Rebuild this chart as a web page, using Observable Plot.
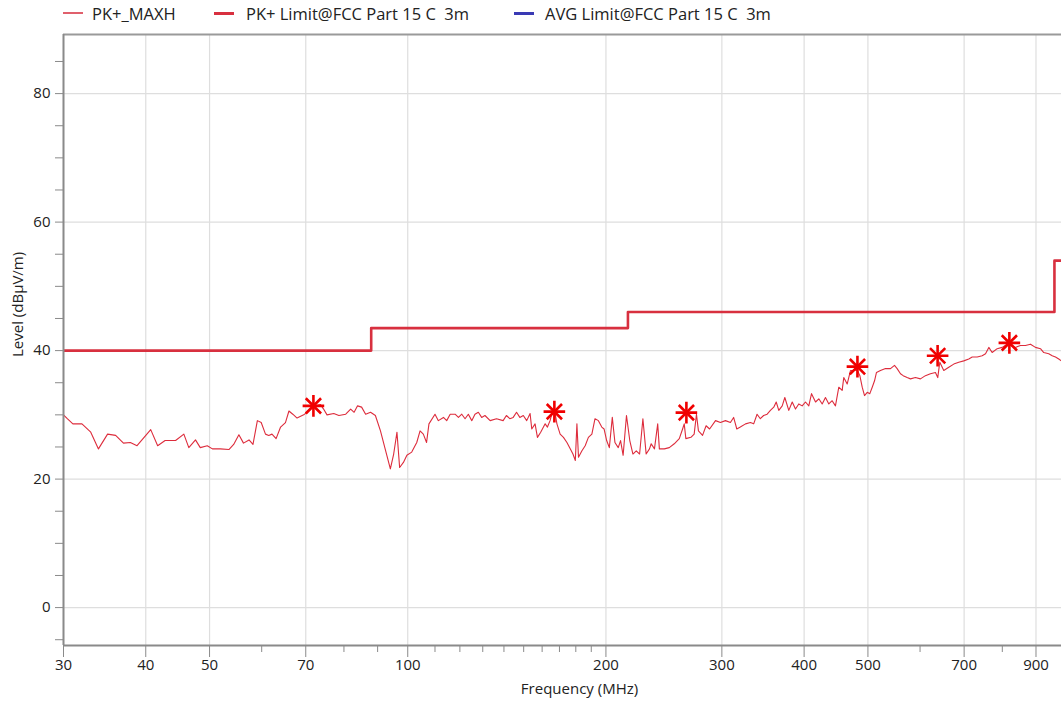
<!DOCTYPE html>
<html><head><meta charset="utf-8">
<script src="https://cdn.jsdelivr.net/npm/d3@7"></script>
<script src="https://cdn.jsdelivr.net/npm/@observablehq/plot@0.6"></script>
<style>
html,body{margin:0;padding:0;background:#fff;overflow:hidden;width:1061px;height:709px}
#legend{position:relative;height:26px;font-family:"Open Sans",sans-serif;font-size:16.5px;color:#222}
.item{position:absolute;top:1px;height:24px;display:flex;align-items:center;white-space:pre}
.sw{position:absolute;width:20px}
#chart svg{display:block;overflow:hidden}
</style></head><body>
<div id="legend"></div>
<div id="chart"></div>
<script>
// ---- data ----
const traceFreq = [30,30.4,31.0,32.0,33.0,33.9,35.0,36.0,37.0,37.9,38.8,40.7,41.7,42.8,44.4,45.7,46.5,47.6,48.4,49.6,50.5,51.9,53.5,54.4,55.4,56.3,57.4,58.2,59.1,
59.9,60.8,61.5,62.2,63.1,64.1,65.2,66.0,66.9,67.9,69.5,71.2,72.5,73.7,74.5,75.4,77.2,78.6,80.5,81.9,82.9,83.9,85.1,86.3,87.8,89.3,90.9,92.4,94.1,95.2,96.3,97.2,98.5,99.7,101.4,103.2,104.4,105.6,106.8,107.7,110.0,111.3,113.3,114.6,116.0,118.0,
119.4,120.8,122.2,123.6,125.1,126.5,128.0,129.5,131.0,133.4,136.4,139.6,141.2,142.9,144.6,146.3,148.0,149.8,151.6,153.4,154.3,156.1,157.4,159.2,161.7,163.0,164.5,166.1,167.5,168.5,170.4,172.4,174.5,176.6,178.2,179.7,180.7,181.7,183.9,186.0,188.1,190.4,192.5,194.8,197.1,198.7,200.5,202.4,204.5,206.4,208.8,210.5,212.4,214.9,217.4,219.8,222.4,225.0,227.6,230.2,232.9,
234.3,237.0,239.7,241.1,245.3,249.6,254.0,258.5,261.5,263.0,264.5,269.2,272.3,274.5,276.4,280.4,283.9,287.4,293.4,298.5,303.8,309.1,312.6,316.1,320.0,325.9,331.5,335.3,339.3,343.2,347.2,351.5,355.5,359.7,362.8,366.1,370.5,373.9,379.1,383.7,388.1,392.6,397.3,401.9,406.6,410.5,416.3,421.1,426.1,431.0,436.1,441.2,446.3,451.6,456.9,459.5,465.0,470.4,
475.9,481.6,486.1,490.1,494.1,498.8,503.3,507.6,511.7,515.2,522.4,531.7,541.1,548.7,553.8,560.3,565.6,573.5,580.2,590.4,600.8,611.4,622.2,633.2,638.3,642.9,651.9,663.4,675.1,687.0,699.1,711.5,720.0,732.8,745.6,754.4,763.1,772.1,785.8,799.6,813.7,823.1,837.6,852.4,867.5,882.8,898.4,914.2,924.8,941.1,952.5,963.5,974.6,983.8];
const traceLevel = [30.0,29.4,28.6,28.6,27.3,24.7,27.0,26.8,25.6,25.7,25.2,27.7,25.2,26.0,26.0,27.0,24.9,26.1,24.9,25.2,24.7,24.7,24.6,25.4,26.9,25.6,26.1,25.4,29.1,
28.8,27.0,26.8,27.0,26.3,28.1,28.8,30.6,30.1,29.5,30.0,30.9,31.4,31.6,30.9,30.0,30.2,29.9,30.1,30.9,30.4,31.4,31.2,30.1,30.4,29.9,27.5,24.7,21.6,23.9,27.3,21.8,22.6,23.7,24.2,25.7,27.5,27.0,25.7,28.6,30.1,29.1,29.6,29.1,30.1,30.1,
29.6,30.1,29.4,30.1,29.1,30.1,30.4,29.6,29.9,29.1,29.4,29.1,29.9,29.4,29.6,30.4,29.6,29.9,29.1,30.2,27.8,28.6,26.5,27.3,28.6,28.1,29.1,30.7,30.1,28.6,27.0,26.5,25.7,24.7,23.9,22.9,28.6,23.4,24.4,25.2,26.5,27.0,29.4,29.1,28.1,27.8,26.0,24.9,29.6,25.7,24.9,26.0,23.7,29.9,26.0,23.9,24.4,23.9,29.4,23.9,24.7,
25.5,24.7,28.6,24.7,24.7,24.9,25.5,26.3,27.8,28.6,26.3,26.5,27.0,30.1,27.5,26.8,28.3,27.8,29.1,28.8,29.1,28.8,29.6,27.8,28.1,28.6,28.8,28.6,30.1,29.4,29.9,30.1,30.7,31.2,32.0,30.7,31.4,32.7,30.7,32.0,30.9,31.7,31.4,32.0,31.4,33.3,32.0,32.5,31.7,32.7,31.7,32.2,31.4,34.3,33.8,35.8,34.8,36.9,
36.9,37.0,36.1,34.3,33.0,33.5,33.3,34.3,35.3,36.6,36.9,37.2,37.2,37.7,37.2,36.4,36.1,35.8,35.6,35.8,35.6,36.1,36.4,36.6,35.8,38.2,36.9,37.4,37.9,38.2,38.4,38.7,39.0,39.0,39.2,39.5,40.5,39.7,40.3,40.5,41.0,40.8,40.5,40.8,40.8,41.0,40.5,40.3,39.7,39.5,39.2,39.0,38.7,38.4];

const limitFreq = [30, 88, 216, 960, 1000];
const limitLevel = [40, 43.5, 46, 54, 54];

const peakFreq = [71.9, 167, 265, 482, 638, 820];
const peakLevel = [31.4, 30.5, 30.35, 37.5, 39.2, 41.2];

const xMajorTicks = [30, 40, 50, 70, 100, 200, 300, 400, 500, 700, 900];
const xMinorTicks = [60, 80, 90, 110, 120, 130, 140, 150, 160, 170, 180, 190, 600, 800];
const yMajorTicks = [0, 20, 40, 60, 80];
const yMinorTicks = [-5, 5, 10, 15, 25, 30, 35, 45, 50, 55, 65, 70, 75, 85];

const legendLabels = ["PK+_MAXH", "PK+ Limit@FCC Part 15 C  3m", "AVG Limit@FCC Part 15 C  3m"];
const xTitle = "Frequency (MHz)";
const yTitle = "Level (dBµV/m)";

// ---- styles ----
const traceColor = "#dd2c3c", limitColor = "#d8303f", avgColor = "#3a3ab4", peakColor = "#f00000";
const axisColor = "#8a8a8a", gridColor = "#dedede", textColor = "#222";
const yMin = -5.9, yMax = 89.2;

// ---- legend ----
const legendStyle = [
  {color: "#e0606c", w: 1.5, sx: 63, tx: 92},
  {color: limitColor, w: 3, sx: 214, tx: 246},
  {color: avgColor, w: 3, sx: 514, tx: 545}
];
const lg = document.getElementById("legend");
legendLabels.forEach((t, i) => {
  const s = legendStyle[i];
  const sw = document.createElement("div");
  sw.className = "sw";
  sw.style.left = s.sx + "px";
  sw.style.height = s.w + "px";
  sw.style.top = (13 - s.w / 2) + "px";
  sw.style.background = s.color;
  lg.appendChild(sw);
  const it = document.createElement("div");
  it.className = "item";
  it.style.left = s.tx + "px";
  it.textContent = t;
  lg.appendChild(it);
});

const trace = traceFreq.map((f, i) => ({f, l: traceLevel[i]}));
const limit = limitFreq.map((f, i) => ({f, l: limitLevel[i]}));
const peaks = peakFreq.map((f, i) => ({f, l: peakLevel[i]}));

const chart = Plot.plot({
  width: 1061, height: 683,
  marginTop: 8, marginBottom: 64, marginLeft: 63, marginRight: 0,
  style: {fontFamily: "'Open Sans', sans-serif", fontSize: "15px", color: textColor, background: "#fff"},
  x: {type: "log", domain: [30, 984], label: null},
  y: {domain: [yMin, yMax], label: null},
  marks: [
    Plot.gridX(xMajorTicks, {stroke: gridColor, strokeOpacity: 1, strokeWidth: 1.2}),
    Plot.gridY(yMajorTicks, {stroke: gridColor, strokeOpacity: 1, strokeWidth: 1.2}),
    Plot.ruleY([yMax], {stroke: "#9a9a9a", strokeWidth: 2}),
    Plot.line(limit, {x: "f", y: "l", curve: "step-after", stroke: limitColor, strokeWidth: 2.6, clip: true}),
    Plot.line(trace, {x: "f", y: "l", stroke: traceColor, strokeWidth: 1.1, clip: true}),
    Plot.dot(peaks, {x: "f", y: "l", symbol: "plus", r: 7, stroke: peakColor, strokeWidth: 2.6}),
    Plot.dot(peaks, {x: "f", y: "l", symbol: "times", r: 7, stroke: peakColor, strokeWidth: 2.6}),
    Plot.axisX(xMajorTicks, {tickSize: 12, stroke: axisColor, text: null, label: null}),
    Plot.axisX(xMinorTicks, {tickSize: 7, stroke: axisColor, text: null, label: null}),
    Plot.text(xMajorTicks, {x: d => d, text: d => String(d), frameAnchor: "bottom", dy: 24, fontSize: 15, fill: textColor}),
    Plot.axisY(yMajorTicks, {tickSize: 8, tickPadding: 5, stroke: axisColor, fill: textColor, tickFormat: d => String(d), label: null}),
    Plot.axisY(yMinorTicks, {tickSize: 8, stroke: axisColor, text: null, label: null}),
    Plot.ruleX([30], {stroke: axisColor, strokeWidth: 2}),
    Plot.ruleY([yMin], {stroke: axisColor, strokeWidth: 2}),
    Plot.text([xTitle], {frameAnchor: "bottom", dx: 17, dy: 48, fontSize: 15, fill: textColor}),
    Plot.text([yTitle], {frameAnchor: "left", dx: -45, dy: 17, rotate: -90, fontSize: 15, fill: textColor})
  ]
});
document.getElementById("chart").appendChild(chart);
</script></body></html>
